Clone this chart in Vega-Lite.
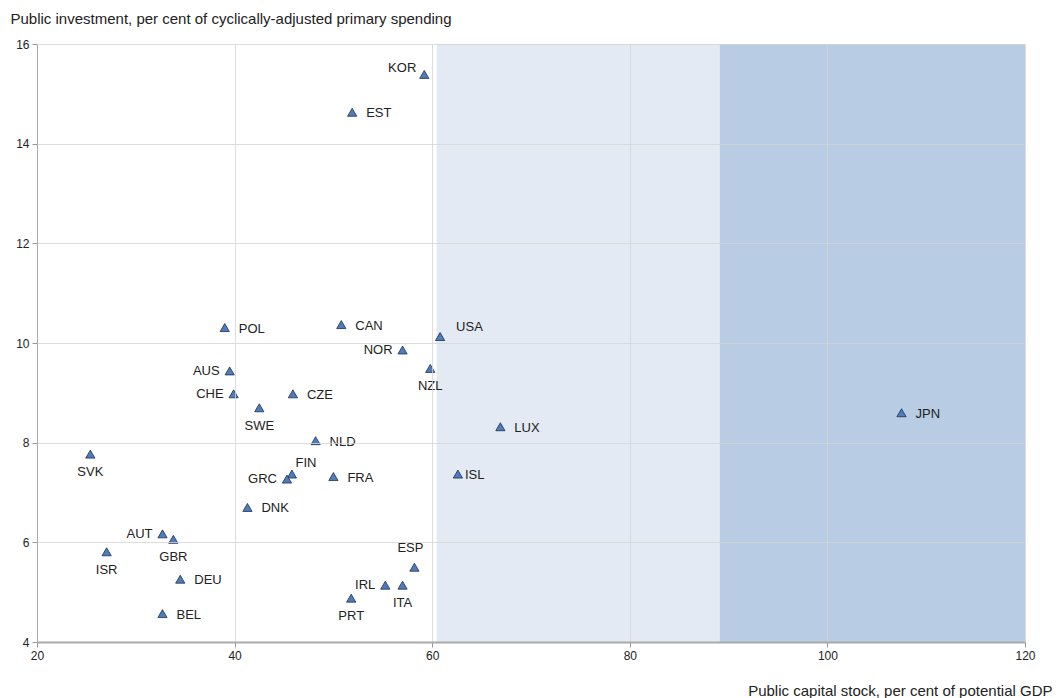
{
  "$schema": "https://vega.github.io/schema/vega-lite/v6.json",
  "width": 988,
  "height": 598,
  "autosize": {"type": "none"},
  "padding": {"left": 37, "top": 44, "right": 33, "bottom": 56},
  "background": "white",
  "config": {
    "font": "Liberation Sans",
    "view": {"stroke": null},
    "axis": {
      "labelFont": "Liberation Sans",
      "titleFont": "Liberation Sans",
      "labelFontSize": 12,
      "labelColor": "#222",
      "titleColor": "#222",
      "titleFontSize": 15,
      "titleFontWeight": "normal",
      "gridColor": "#d4d4d4",
      "gridOpacity": 0.8,
      "tickColor": "#999",
      "domainColor": "#aaa",
      "labelFlush": false
    }
  },
  "datasets": {
    "points": [
      {"country": "KOR", "capital": 59.2, "investment": 15.39},
      {"country": "EST", "capital": 51.9, "investment": 14.63},
      {"country": "CAN", "capital": 50.8, "investment": 10.37},
      {"country": "USA", "capital": 60.8, "investment": 10.13},
      {"country": "NOR", "capital": 57.0, "investment": 9.86},
      {"country": "NZL", "capital": 59.8, "investment": 9.49},
      {"country": "LUX", "capital": 66.9, "investment": 8.32},
      {"country": "ISL", "capital": 62.6, "investment": 7.37},
      {"country": "JPN", "capital": 107.5, "investment": 8.6},
      {"country": "POL", "capital": 39.0, "investment": 10.31},
      {"country": "AUS", "capital": 39.5, "investment": 9.44},
      {"country": "CHE", "capital": 39.9, "investment": 8.98},
      {"country": "SWE", "capital": 42.5, "investment": 8.7},
      {"country": "CZE", "capital": 45.9, "investment": 8.98},
      {"country": "NLD", "capital": 48.2, "investment": 8.04},
      {"country": "FIN", "capital": 45.8, "investment": 7.37},
      {"country": "GRC", "capital": 45.3, "investment": 7.27},
      {"country": "FRA", "capital": 50.0, "investment": 7.32},
      {"country": "SVK", "capital": 25.4, "investment": 7.77},
      {"country": "DNK", "capital": 41.3, "investment": 6.7},
      {"country": "AUT", "capital": 32.7, "investment": 6.17},
      {"country": "GBR", "capital": 33.8, "investment": 6.06},
      {"country": "ISR", "capital": 27.05, "investment": 5.81},
      {"country": "DEU", "capital": 34.5, "investment": 5.26},
      {"country": "BEL", "capital": 32.7, "investment": 4.57},
      {"country": "ESP", "capital": 58.2, "investment": 5.5},
      {"country": "IRL", "capital": 55.25, "investment": 5.14},
      {"country": "ITA", "capital": 57.0, "investment": 5.14},
      {"country": "PRT", "capital": 51.8, "investment": 4.88}
    ],
    "bands": [
      {"band": "light", "from": 60.45, "to": 89.1},
      {"band": "dark", "from": 89.1, "to": 120}
    ]
  },
  "layer": [
    {
      "data": {"name": "bands"},
      "mark": {"type": "rect"},
      "encoding": {
        "x": {"field": "from", "type": "quantitative", "scale": {"domain": [20, 120], "nice": false, "zero": false}},
        "x2": {"field": "to"},
        "color": {"field": "band", "type": "nominal", "scale": {"domain": ["light", "dark"], "range": ["#e4eaf4", "#b8cce4"]}, "legend": null}
      }
    },
    {
      "data": {"name": "points"},
      "mark": {"type": "point", "shape": "triangle-up", "filled": true, "size": 85, "fill": "#4f7cba", "stroke": "#1e2f4f", "strokeWidth": 0.8, "opacity": 1},
      "encoding": {
        "x": {
          "field": "capital", "type": "quantitative",
          "scale": {"domain": [20, 120], "nice": false, "zero": false},
          "axis": {
            "values": [20, 40, 60, 80, 100, 120],
            "title": "Public  capital stock, per cent of potential GDP",
            "titleAlign": "right", "titleAnchor": "end", "titleX": 1015, "titleY": 48, "titleBaseline": "middle",
            "domainWidth": 2, "domainColor": "#aaa", "tickSize": 5, "labelPadding": 3,
            "grid": true, "zindex": 1
          }
        },
        "y": {
          "field": "investment", "type": "quantitative",
          "scale": {"domain": [4, 16], "nice": false, "zero": false},
          "axis": {
            "values": [4, 6, 8, 10, 12, 14, 16],
            "title": "Public investment, per cent of cyclically-adjusted primary spending",
            "titleAngle": 0, "titleAlign": "left", "titleAnchor": "start", "titleX": -27, "titleY": -26, "titleBaseline": "middle",
            "domainColor": "#aaa", "tickSize": 5, "labelPadding": 3,
            "grid": true, "zindex": 1
          }
        }
      }
    },
    {
      "data": {"name": "points"},
      "transform": [{"filter": {"field": "country", "oneOf": ["EST", "POL", "CAN", "CZE", "NLD", "FRA", "LUX", "JPN", "DNK", "DEU", "BEL"]}}],
      "mark": {"type": "text", "align": "left", "baseline": "middle", "dx": 14, "dy": 1, "fontSize": 13, "color": "#222"},
      "encoding": {
        "x": {"field": "capital", "type": "quantitative"},
        "y": {"field": "investment", "type": "quantitative"},
        "text": {"field": "country"}
      }
    },
    {
      "data": {"name": "points"},
      "transform": [{"filter": {"field": "country", "oneOf": ["ISL"]}}],
      "mark": {"type": "text", "align": "left", "baseline": "middle", "dx": 7, "dy": 1, "fontSize": 13, "color": "#222"},
      "encoding": {
        "x": {"field": "capital", "type": "quantitative"},
        "y": {"field": "investment", "type": "quantitative"},
        "text": {"field": "country"}
      }
    },
    {
      "data": {"name": "points"},
      "transform": [{"filter": {"field": "country", "oneOf": ["USA"]}}],
      "mark": {"type": "text", "align": "left", "baseline": "middle", "dx": 16, "dy": -10, "fontSize": 13, "color": "#222"},
      "encoding": {
        "x": {"field": "capital", "type": "quantitative"},
        "y": {"field": "investment", "type": "quantitative"},
        "text": {"field": "country"}
      }
    },
    {
      "data": {"name": "points"},
      "transform": [{"filter": {"field": "country", "oneOf": ["FIN"]}}],
      "mark": {"type": "text", "align": "center", "baseline": "middle", "dx": 14, "dy": -11, "fontSize": 13, "color": "#222"},
      "encoding": {
        "x": {"field": "capital", "type": "quantitative"},
        "y": {"field": "investment", "type": "quantitative"},
        "text": {"field": "country"}
      }
    },
    {
      "data": {"name": "points"},
      "transform": [{"filter": {"field": "country", "oneOf": ["KOR"]}}],
      "mark": {"type": "text", "align": "right", "baseline": "middle", "dx": -8, "dy": -6, "fontSize": 13, "color": "#222"},
      "encoding": {
        "x": {"field": "capital", "type": "quantitative"},
        "y": {"field": "investment", "type": "quantitative"},
        "text": {"field": "country"}
      }
    },
    {
      "data": {"name": "points"},
      "transform": [{"filter": {"field": "country", "oneOf": ["NOR", "AUS", "CHE", "GRC", "AUT", "IRL"]}}],
      "mark": {"type": "text", "align": "right", "baseline": "middle", "dx": -10, "fontSize": 13, "color": "#222"},
      "encoding": {
        "x": {"field": "capital", "type": "quantitative"},
        "y": {"field": "investment", "type": "quantitative"},
        "text": {"field": "country"}
      }
    },
    {
      "data": {"name": "points"},
      "transform": [{"filter": {"field": "country", "oneOf": ["SWE", "NZL", "SVK", "ISR", "GBR", "PRT", "ITA"]}}],
      "mark": {"type": "text", "align": "center", "baseline": "middle", "dy": 18, "fontSize": 13, "color": "#222"},
      "encoding": {
        "x": {"field": "capital", "type": "quantitative"},
        "y": {"field": "investment", "type": "quantitative"},
        "text": {"field": "country"}
      }
    },
    {
      "data": {"name": "points"},
      "transform": [{"filter": {"field": "country", "oneOf": ["ESP"]}}],
      "mark": {"type": "text", "align": "center", "baseline": "middle", "dx": -4, "dy": -19, "fontSize": 13, "color": "#222"},
      "encoding": {
        "x": {"field": "capital", "type": "quantitative"},
        "y": {"field": "investment", "type": "quantitative"},
        "text": {"field": "country"}
      }
    }
  ]
}
